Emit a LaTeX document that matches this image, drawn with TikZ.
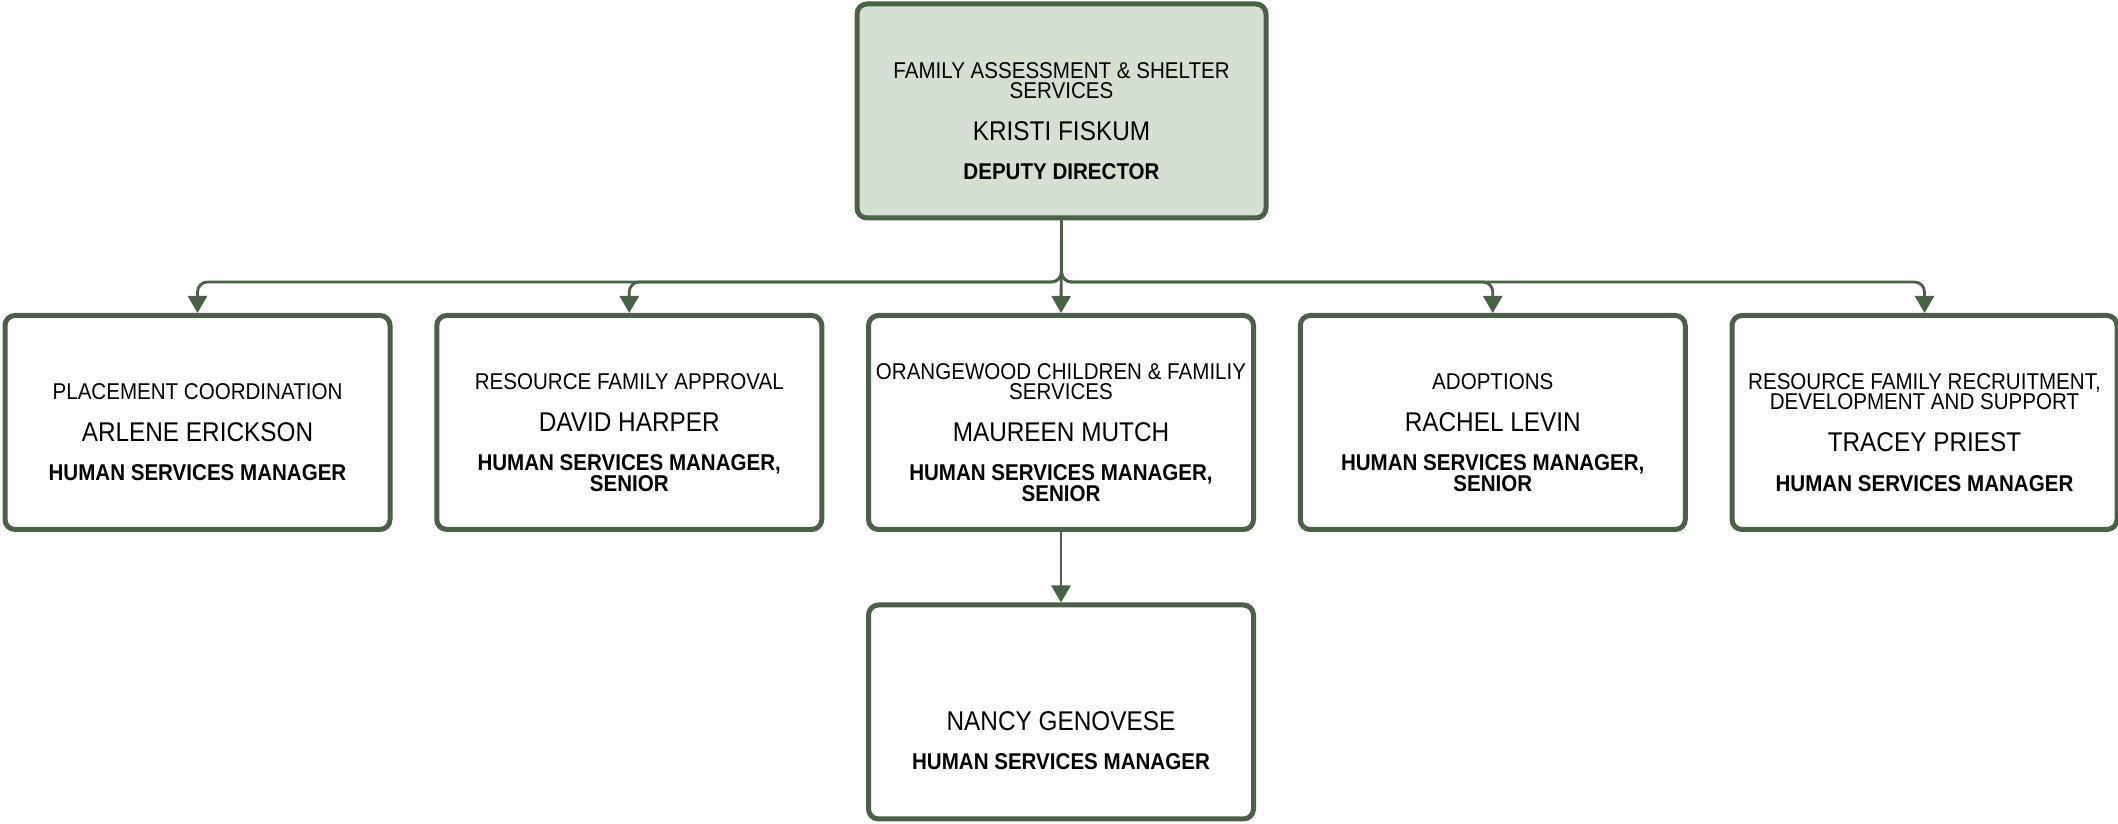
\documentclass[tikz,border=0pt]{standalone}
\usepackage{fontspec}
\setmainfont{Liberation Sans}[FakeStretch=0.9]
\usetikzlibrary{arrows.meta}

\definecolor{orgline}{RGB}{74,97,72}
\definecolor{orgfill}{RGB}{213,224,211}

\newcommand{\deptfont}{\fontsize{6.5pt}{5.7pt}\selectfont}
\newcommand{\namefont}{\fontsize{7.7pt}{5.7pt}\selectfont}
\newcommand{\titlefont}{\fontsize{6.5pt}{5.7pt}\selectfont\bfseries}

\begin{document}
\begin{tikzpicture}[
    orgbox/.style={draw=orgline, line width=0.05cm, rounded corners=0.1cm, fill=white,
                   minimum width=3.85cm, minimum height=2.14cm, inner sep=0pt},
    headbox/.style={orgbox, fill=orgfill, minimum width=4.09cm},
    boxtext/.style={align=center, inner sep=0pt, text depth=0pt,
                    font=\fontsize{6.5pt}{5.7pt}\selectfont},
    link/.style={draw=orgline, line width=0.8pt, rounded corners=0.1cm,
                 -{Triangle[length=0.17cm, width=0.19cm]}}]
    \useasboundingbox (0,0) rectangle (21.18,-8.24);

    % Draw the boxes
    \node[headbox] (fiskum)   at (10.615,-1.11) {};
    \node[orgbox]  (erickson) at (1.975,-4.225) {};
    \node[orgbox]  (harper)   at (6.2925,-4.225) {};
    \node[orgbox]  (mutch)    at (10.61,-4.225) {};
    \node[orgbox]  (levin)    at (14.9275,-4.225) {};
    \node[orgbox]  (priest)   at (19.245,-4.225) {};
    \node[orgbox]  (genovese) at (10.61,-7.12) {};

    % Write the texts inside the boxes
    \node[boxtext] (fiskumtext) at ([yshift=-0.1cm]fiskum.center)
        {\deptfont FAMILY ASSESSMENT \& SHELTER\\ \deptfont SERVICES\\[0.22cm]
         \namefont KRISTI FISKUM\\[0.19cm] \titlefont DEPUTY DIRECTOR};
    \node[boxtext] (ericksontext) at ([yshift=-0.1cm]erickson.center)
        {\deptfont PLACEMENT COORDINATION\\[0.22cm]
         \namefont ARLENE ERICKSON\\[0.19cm] \titlefont HUMAN SERVICES MANAGER};
    \node[boxtext] (harpertext) at ([yshift=-0.1cm]harper.center)
        {\deptfont RESOURCE FAMILY APPROVAL\\[0.22cm]
         \namefont DAVID HARPER\\[0.19cm] \titlefont HUMAN SERVICES MANAGER,\\ \titlefont SENIOR};
    \node[boxtext] (mutchtext) at ([yshift=-0.1cm]mutch.center)
        {\deptfont ORANGEWOOD CHILDREN \& FAMILIY\\ \deptfont SERVICES\\[0.22cm]
         \namefont MAUREEN MUTCH\\[0.19cm] \titlefont HUMAN SERVICES MANAGER,\\ \titlefont SENIOR};
    \node[boxtext] (levintext) at ([yshift=-0.1cm]levin.center)
        {\deptfont ADOPTIONS\\[0.22cm]
         \namefont RACHEL LEVIN\\[0.19cm] \titlefont HUMAN SERVICES MANAGER,\\ \titlefont SENIOR};
    \node[boxtext] (priesttext) at ([yshift=-0.1cm]priest.center)
        {\deptfont RESOURCE FAMILY RECRUITMENT,\\ \deptfont DEVELOPMENT AND SUPPORT\\[0.22cm]
         \namefont TRACEY PRIEST\\[0.19cm] \titlefont HUMAN SERVICES MANAGER};
    \node[boxtext] (genovesetext) at ([yshift=-0.29cm]genovese.center)
        {\namefont NANCY GENOVESE\\[0.19cm] \titlefont HUMAN SERVICES MANAGER};

    % Draw the connectors
    \coordinate (bus) at (10.61,-2.82);
    \draw[link] (fiskum.south) -- (fiskum.south |- bus) -| (erickson.north);
    \draw[link] (fiskum.south) -- (fiskum.south |- bus) -| (harper.north);
    \draw[link] (fiskum.south) -- (mutch.north);
    \draw[link] (fiskum.south) -- (fiskum.south |- bus) -| (levin.north);
    \draw[link] (fiskum.south) -- (fiskum.south |- bus) -| (priest.north);
    \draw[link] (mutch.south) -- (genovese.north);

\end{tikzpicture}
\end{document}
